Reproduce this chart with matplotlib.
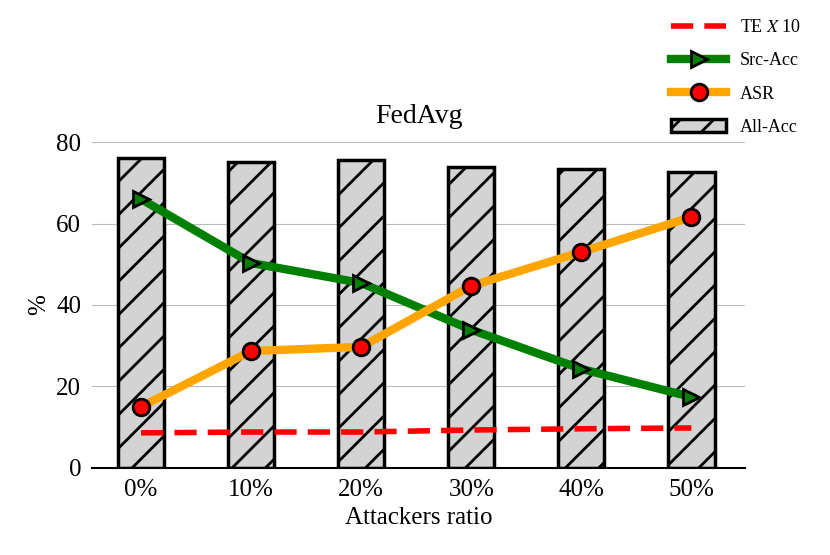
import matplotlib.pyplot as plt
import numpy as np

plt.rcParams["font.family"] = ["Liberation Serif", "DejaVu Serif"]
plt.rcParams["mathtext.fontset"] = "stix"
plt.rcParams["hatch.linewidth"] = 2.0

ratios = ["0%", "10%", "20%", "30%", "40%", "50%"]
all_acc = [76.1, 75.1, 75.6, 73.9, 73.4, 72.6]
src_acc = [66.0, 50.3, 45.4, 33.9, 24.3, 17.4]
asr = [15.0, 28.7, 29.7, 44.7, 53.0, 61.6]
te_x10 = [8.6, 8.8, 8.8, 9.3, 9.6, 9.8]

fig = plt.figure(figsize=(8.3, 5.55), dpi=100)
ax = fig.add_axes([0.111, 0.157, 0.787, 0.587])
x = np.arange(len(ratios))

ax.grid(axis="y", color="#bbbbbb", lw=0.8, zorder=0)
bars = ax.bar(x, all_acc, width=0.42, color="lightgray", edgecolor="black",
              lw=2.5, hatch="/", label="All-Acc", zorder=2)
l_te, = ax.plot(x, te_x10, color="red", ls="--", lw=4, dashes=(4, 2),
                label="TE $X$ 10", zorder=3)
l_src, = ax.plot(x, src_acc, color="green", lw=6, marker=">", ms=12,
                 mfc="green", mec="black", mew=2, label="Src-Acc", zorder=4)
l_asr, = ax.plot(x, asr, color="orange", lw=6, marker="o", ms=12,
                 mfc="red", mec="black", mew=2, label="ASR", zorder=5)

ax.set_xlim(-0.445, 5.49)
ax.set_ylim(0, 80)
ax.set_yticks([0, 20, 40, 60, 80])
ax.set_xticks(x)
ax.set_xticklabels(ratios)
ax.tick_params(labelsize=18, length=0, pad=8)
for s in ["top", "right", "left"]:
    ax.spines[s].set_visible(False)
ax.spines["bottom"].set_linewidth(1.5)
ax.set_xlabel("Attackers ratio", fontsize=18)
ax.set_ylabel("%", fontsize=18)
ax.set_title("FedAvg", fontsize=20, pad=14)

fig.legend(handles=[l_te, l_src, l_asr, bars], loc="upper right",
           bbox_to_anchor=(0.985, 0.995), frameon=False, fontsize=13,
           handlelength=3, labelspacing=0.9)

fig.savefig("out.png")
